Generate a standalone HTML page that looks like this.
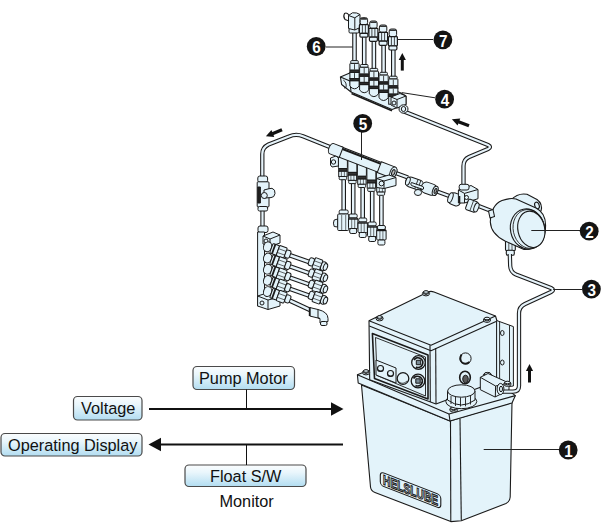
<!DOCTYPE html>
<html><head><meta charset="utf-8">
<style>
html,body{margin:0;padding:0;background:#fff;width:608px;height:528px;overflow:hidden}
svg{display:block}
.lb{font-family:"Liberation Sans",sans-serif;font-size:16.3px;fill:#111}
.num{font-family:"Liberation Sans",sans-serif;font-size:17px;font-weight:bold;fill:#fff}
</style></head><body>
<svg width="608" height="528" viewBox="0 0 608 528">
<defs>
<linearGradient id="bx" x1="0" y1="0" x2="0" y2="1">
<stop offset="0" stop-color="#fbfdfe"/><stop offset="0.35" stop-color="#e9f6fc"/><stop offset="1" stop-color="#b2ddf1"/>
</linearGradient>
</defs>
<g stroke="#4a4a4a" stroke-width="1.2" fill="url(#bx)">
<rect x="73.5" y="396.5" width="68.5" height="23.5" rx="4"/>
<rect x="1" y="433.5" width="141" height="22.5" rx="4"/>
<rect x="193" y="366.5" width="101.5" height="23" rx="4"/>
<rect x="185" y="465" width="121" height="21.5" rx="4"/>
</g>
<g class="lb">
<text x="81" y="414">Voltage</text>
<text x="8" y="451">Operating Display</text>
<text x="199" y="384">Pump Motor</text>
<text x="210" y="481.5">Float S/W</text>
<text x="219.5" y="506.5">Monitor</text>
</g>
<g stroke="#111" stroke-width="2" fill="none">
<line x1="149" y1="409" x2="332" y2="409"/>
<line x1="160" y1="444.5" x2="343" y2="444.5"/>
</g>
<g stroke="#111" stroke-width="1" fill="none">
<line x1="246.5" y1="389.5" x2="246.5" y2="408"/>
<line x1="246.5" y1="444" x2="246.5" y2="465"/>
</g>
<g fill="#111">
<polygon points="343.5,409 331,402.3 331,415.7"/>
<polygon points="148.5,444.5 161,437.8 161,451.2"/>
</g>
<g stroke="#1a1a1a" stroke-width="1.1" fill="#e3f3fa" stroke-linejoin="round">
<path d="M361.5,385 L370.5,487 Q371,491 375,492.5 L450.8,521.6 L461.3,520.8 L506,503.5 Q510,501.5 510.2,497 L512,402 L450,421 Z"/>
<line x1="450.5" y1="421" x2="450.8" y2="521.5"/>
<line x1="460" y1="419" x2="461.3" y2="520.5"/>
<path d="M357.4,374.7 L368,370.6 L505,388 L515.4,395.6 L512,403 L450,421 L358.2,383 Z"/>
<path d="M357.4,374.7 L449,414 L515.4,395.6" fill="none"/>
<line x1="449" y1="414" x2="450" y2="421"/>
<path d="M369,320.7 L428,292 Q431,290.8 434,292 L495.5,316 L497,321 L497,381 L436,404 L369.7,379.7 Z"/>
<path d="M369,320.7 L431,345.3 L495.5,316" fill="none"/>
<path d="M369.3,326 L431,350.8 L496,321.5" fill="none"/>
<line x1="435.7" y1="348" x2="436" y2="404"/>
<line x1="430" y1="345.3" x2="430.3" y2="402"/>
<path d="M372.4,333.5 L428,355 L428,399 L374.5,378.5 Z" stroke-width="1.6"/>
<path d="M375.5,337.5 L425.5,357 L425.5,396 L377,375.5 Z" fill="none" stroke-width="0.9"/>
</g>
<g transform="translate(379.8,471) skewY(21.2)"><rect x="0.5" y="0.5" width="60.5" height="13.5" rx="3.5" fill="none" stroke="#1a1a1a" stroke-width="1.1"/><text x="30.8" y="12" text-anchor="middle" textLength="55" lengthAdjust="spacingAndGlyphs" style="font-family:'Liberation Sans',sans-serif;font-weight:bold;font-size:13.8px" fill="#cfdde6" stroke="#1a1a1a" stroke-width="1.1">HELSLUBE</text></g>
<path d="M404,111.5 L488,145 Q492,147 488,149 L469,157 Q463.5,159.5 463.5,166 L463.5,186" fill="none" stroke="#1a1a1a" stroke-width="4.3" stroke-linejoin="round" stroke-linecap="butt"/>
<path d="M404,111.5 L488,145 Q492,147 488,149 L469,157 Q463.5,159.5 463.5,166 L463.5,186" fill="none" stroke="#e6f3fa" stroke-width="2.2" stroke-linejoin="round" stroke-linecap="butt"/>
<path d="M262.3,181 L262.3,154 Q262.3,147.5 268.5,144.5 L289,136.5 Q296,133.5 303,136.3 L331,147.5" fill="none" stroke="#1a1a1a" stroke-width="4.3" stroke-linejoin="round" stroke-linecap="butt"/>
<path d="M262.3,181 L262.3,154 Q262.3,147.5 268.5,144.5 L289,136.5 Q296,133.5 303,136.3 L331,147.5" fill="none" stroke="#e6f3fa" stroke-width="2.2" stroke-linejoin="round" stroke-linecap="butt"/>
<path d="M393,172 L408,177.5" fill="none" stroke="#1a1a1a" stroke-width="4.3" stroke-linejoin="round" stroke-linecap="butt"/>
<path d="M393,172 L408,177.5" fill="none" stroke="#e6f3fa" stroke-width="2.2" stroke-linejoin="round" stroke-linecap="butt"/>
<path d="M433,190 L452,197" fill="none" stroke="#1a1a1a" stroke-width="4.3" stroke-linejoin="round" stroke-linecap="butt"/>
<path d="M433,190 L452,197" fill="none" stroke="#e6f3fa" stroke-width="2.2" stroke-linejoin="round" stroke-linecap="butt"/>
<path d="M476,205 L494,212" fill="none" stroke="#1a1a1a" stroke-width="4.3" stroke-linejoin="round" stroke-linecap="butt"/>
<path d="M476,205 L494,212" fill="none" stroke="#e6f3fa" stroke-width="2.2" stroke-linejoin="round" stroke-linecap="butt"/>
<path d="M262.5,208 L262.5,228" fill="none" stroke="#1a1a1a" stroke-width="4.3" stroke-linejoin="round" stroke-linecap="butt"/>
<path d="M262.5,208 L262.5,228" fill="none" stroke="#e6f3fa" stroke-width="2.2" stroke-linejoin="round" stroke-linecap="butt"/>
<path d="M354.5,31 L354.5,61.6" fill="none" stroke="#1a1a1a" stroke-width="4.6" stroke-linejoin="round" stroke-linecap="butt"/>
<path d="M354.5,31 L354.5,61.6" fill="none" stroke="#e6f3fa" stroke-width="2.4" stroke-linejoin="round" stroke-linecap="butt"/>
<path d="M364.2,36 L364.2,65.5" fill="none" stroke="#1a1a1a" stroke-width="4.6" stroke-linejoin="round" stroke-linecap="butt"/>
<path d="M364.2,36 L364.2,65.5" fill="none" stroke="#e6f3fa" stroke-width="2.4" stroke-linejoin="round" stroke-linecap="butt"/>
<path d="M373.9,40 L373.9,69.4" fill="none" stroke="#1a1a1a" stroke-width="4.6" stroke-linejoin="round" stroke-linecap="butt"/>
<path d="M373.9,40 L373.9,69.4" fill="none" stroke="#e6f3fa" stroke-width="2.4" stroke-linejoin="round" stroke-linecap="butt"/>
<path d="M383.6,44 L383.6,73.3" fill="none" stroke="#1a1a1a" stroke-width="4.6" stroke-linejoin="round" stroke-linecap="butt"/>
<path d="M383.6,44 L383.6,73.3" fill="none" stroke="#e6f3fa" stroke-width="2.4" stroke-linejoin="round" stroke-linecap="butt"/>
<path d="M393.3,49 L393.3,77.2" fill="none" stroke="#1a1a1a" stroke-width="4.6" stroke-linejoin="round" stroke-linecap="butt"/>
<path d="M393.3,49 L393.3,77.2" fill="none" stroke="#e6f3fa" stroke-width="2.4" stroke-linejoin="round" stroke-linecap="butt"/>
<g stroke="#1a1a1a" stroke-width="1.1" fill="#e3f3fa" stroke-linejoin="round"><path d="M340.4,76.9 L349.75,73 L401,93 L406,96 L406,104.5 L392,109.5 L351,92 L341.6,84.5 Z"/><path d="M340.4,76.9 L350,81 L351,92" fill="none"/><path d="M350,81 L392,98" fill="none"/><path d="M351.5,93.5 L392,110.8" fill="none" stroke-width="1.7"/><path d="M343.3,80 Q347,82.5 346,87.5 L344,88" fill="none" stroke-width="0.9"/></g>
<g stroke="#1a1a1a" stroke-width="1" fill="#e3f3fa"><path d="M349.9,80.6 L349.9,86.1 Q354.5,91.6 359.09999999999997,86.1 L359.09999999999997,80.6 Z"/><rect x="350.7" y="60.6" width="7.6" height="2.8" rx="1"/><rect x="349.9" y="63.4" width="9.2" height="6.8" rx="0.5"/><line x1="354.5" y1="64.1" x2="354.5" y2="69.6" stroke-width="0.8"/><rect x="349.9" y="70.2" width="9.2" height="2.3" fill="#2a2a2a"/><rect x="349.9" y="72.5" width="9.2" height="6"/><line x1="354.5" y1="73.1" x2="354.5" y2="78.1" stroke-width="0.8"/><rect x="349.9" y="78.5" width="9.2" height="2.3" fill="#2a2a2a"/></g>
<g stroke="#1a1a1a" stroke-width="1" fill="#e3f3fa"><path d="M359.59999999999997,84.5 L359.59999999999997,90.0 Q364.2,95.5 368.79999999999995,90.0 L368.79999999999995,84.5 Z"/><rect x="360.4" y="64.5" width="7.6" height="2.8" rx="1"/><rect x="359.59999999999997" y="67.3" width="9.2" height="6.8" rx="0.5"/><line x1="364.2" y1="68.0" x2="364.2" y2="73.5" stroke-width="0.8"/><rect x="359.59999999999997" y="74.1" width="9.2" height="2.3" fill="#2a2a2a"/><rect x="359.59999999999997" y="76.4" width="9.2" height="6"/><line x1="364.2" y1="77.0" x2="364.2" y2="82.0" stroke-width="0.8"/><rect x="359.59999999999997" y="82.4" width="9.2" height="2.3" fill="#2a2a2a"/></g>
<g stroke="#1a1a1a" stroke-width="1" fill="#e3f3fa"><path d="M369.29999999999995,88.4 L369.29999999999995,93.9 Q373.9,99.4 378.49999999999994,93.9 L378.49999999999994,88.4 Z"/><rect x="370.09999999999997" y="68.4" width="7.6" height="2.8" rx="1"/><rect x="369.29999999999995" y="71.2" width="9.2" height="6.8" rx="0.5"/><line x1="373.9" y1="71.9" x2="373.9" y2="77.4" stroke-width="0.8"/><rect x="369.29999999999995" y="78.0" width="9.2" height="2.3" fill="#2a2a2a"/><rect x="369.29999999999995" y="80.30000000000001" width="9.2" height="6"/><line x1="373.9" y1="80.9" x2="373.9" y2="85.9" stroke-width="0.8"/><rect x="369.29999999999995" y="86.30000000000001" width="9.2" height="2.3" fill="#2a2a2a"/></g>
<g stroke="#1a1a1a" stroke-width="1" fill="#e3f3fa"><path d="M379.0,92.3 L379.0,97.8 Q383.6,103.3 388.2,97.8 L388.2,92.3 Z"/><rect x="379.8" y="72.3" width="7.6" height="2.8" rx="1"/><rect x="379.0" y="75.1" width="9.2" height="6.8" rx="0.5"/><line x1="383.6" y1="75.8" x2="383.6" y2="81.3" stroke-width="0.8"/><rect x="379.0" y="81.89999999999999" width="9.2" height="2.3" fill="#2a2a2a"/><rect x="379.0" y="84.2" width="9.2" height="6"/><line x1="383.6" y1="84.8" x2="383.6" y2="89.8" stroke-width="0.8"/><rect x="379.0" y="90.19999999999999" width="9.2" height="2.3" fill="#2a2a2a"/></g>
<g stroke="#1a1a1a" stroke-width="1" fill="#e3f3fa"><rect x="388.7" y="96.2" width="9.2" height="8"/><rect x="389.5" y="76.2" width="7.6" height="2.8" rx="1"/><rect x="388.7" y="79.0" width="9.2" height="6.8" rx="0.5"/><line x1="393.3" y1="79.7" x2="393.3" y2="85.2" stroke-width="0.8"/><rect x="388.7" y="85.8" width="9.2" height="2.3" fill="#2a2a2a"/><rect x="388.7" y="88.10000000000001" width="9.2" height="6"/><line x1="393.3" y1="88.7" x2="393.3" y2="93.7" stroke-width="0.8"/><rect x="388.7" y="94.1" width="9.2" height="2.3" fill="#2a2a2a"/></g>
<g stroke="#1a1a1a" stroke-width="1" fill="#e3f3fa" stroke-linejoin="round"><path d="M391,97 L400,93.5 L406,96 L406,104.5 L397,108 L391,105 Z"/><path d="M391,97 L397,99.5 L406,96 M397,99.5 L397,108" fill="none"/><circle cx="394" cy="103" r="2"/><ellipse cx="403.5" cy="109" rx="4.5" ry="4.2"/><ellipse cx="403.5" cy="109" rx="2.2" ry="2.5"/></g>
<g stroke="#1a1a1a" stroke-width="1" fill="#e3f3fa" stroke-linejoin="round"><rect x="349" y="28.5" width="10" height="4.5" rx="1.2"/><path d="M348.5,15.5 L352.5,12.8 Q357,12.3 360,14.5 L360,27.5 L354.8,30 L348.5,28.5 Z"/><path d="M348.5,15.5 L354.8,17.8 L360,14.5 M354.8,17.8 L354.8,30" fill="none"/><path d="M349,15 Q346.5,12 344.5,13.5 Q342.8,16.5 345,19.5 L349,21" fill="none" stroke-width="1.1"/></g>
<g stroke="#1a1a1a" stroke-width="1" fill="#e3f3fa"><rect x="360.2" y="17.7" width="7.4" height="7.0" rx="2"/><rect x="360.59999999999997" y="18.099999999999998" width="6.6" height="1.6" rx="0.8" fill="#333" stroke="none"/><rect x="359.4" y="24.7" width="9" height="8.6" rx="0.8" stroke-width="1.2"/><line x1="362.4" y1="25.1" x2="362.4" y2="32.9" stroke-width="0.8"/><line x1="365.4" y1="25.1" x2="365.4" y2="32.9" stroke-width="0.8"/><rect x="359.9" y="33.3" width="8" height="3.9" rx="1.2" stroke-width="1.2"/></g>
<g stroke="#1a1a1a" stroke-width="1" fill="#e3f3fa"><rect x="369.7" y="21" width="7.4" height="7.3" rx="2"/><rect x="370.09999999999997" y="21.4" width="6.6" height="1.6" rx="0.8" fill="#333" stroke="none"/><rect x="368.9" y="28.3" width="9" height="8.9" rx="0.8" stroke-width="1.2"/><line x1="371.9" y1="28.7" x2="371.9" y2="36.8" stroke-width="0.8"/><line x1="374.9" y1="28.7" x2="374.9" y2="36.8" stroke-width="0.8"/><rect x="369.4" y="37.2" width="8" height="4.1" rx="1.2" stroke-width="1.2"/></g>
<g stroke="#1a1a1a" stroke-width="1" fill="#e3f3fa"><rect x="379.40000000000003" y="25" width="7.4" height="7.3" rx="2"/><rect x="379.8" y="25.4" width="6.6" height="1.6" rx="0.8" fill="#333" stroke="none"/><rect x="378.6" y="32.3" width="9" height="8.9" rx="0.8" stroke-width="1.2"/><line x1="381.6" y1="32.7" x2="381.6" y2="40.8" stroke-width="0.8"/><line x1="384.6" y1="32.7" x2="384.6" y2="40.8" stroke-width="0.8"/><rect x="379.1" y="41.2" width="8" height="4.1" rx="1.2" stroke-width="1.2"/></g>
<g stroke="#1a1a1a" stroke-width="1" fill="#e3f3fa"><rect x="389.2" y="29" width="7.4" height="7.6" rx="2"/><rect x="389.59999999999997" y="29.4" width="6.6" height="1.6" rx="0.8" fill="#333" stroke="none"/><rect x="388.4" y="36.6" width="9" height="9.2" rx="0.8" stroke-width="1.2"/><line x1="391.4" y1="37.0" x2="391.4" y2="45.4" stroke-width="0.8"/><line x1="394.4" y1="37.0" x2="394.4" y2="45.4" stroke-width="0.8"/><rect x="388.9" y="45.8" width="8" height="4.2" rx="1.2" stroke-width="1.2"/></g>
<path d="M343.7,180 L343.7,212" fill="none" stroke="#1a1a1a" stroke-width="4.6" stroke-linejoin="round" stroke-linecap="butt"/>
<path d="M343.7,180 L343.7,212" fill="none" stroke="#e6f3fa" stroke-width="2.4" stroke-linejoin="round" stroke-linecap="butt"/>
<path d="M353.2,184 L353.2,216" fill="none" stroke="#1a1a1a" stroke-width="4.6" stroke-linejoin="round" stroke-linecap="butt"/>
<path d="M353.2,184 L353.2,216" fill="none" stroke="#e6f3fa" stroke-width="2.4" stroke-linejoin="round" stroke-linecap="butt"/>
<path d="M362.7,188 L362.7,220" fill="none" stroke="#1a1a1a" stroke-width="4.6" stroke-linejoin="round" stroke-linecap="butt"/>
<path d="M362.7,188 L362.7,220" fill="none" stroke="#e6f3fa" stroke-width="2.4" stroke-linejoin="round" stroke-linecap="butt"/>
<path d="M372.2,192 L372.2,224" fill="none" stroke="#1a1a1a" stroke-width="4.6" stroke-linejoin="round" stroke-linecap="butt"/>
<path d="M372.2,192 L372.2,224" fill="none" stroke="#e6f3fa" stroke-width="2.4" stroke-linejoin="round" stroke-linecap="butt"/>
<path d="M381.4,196 L381.4,227.5" fill="none" stroke="#1a1a1a" stroke-width="4.6" stroke-linejoin="round" stroke-linecap="butt"/>
<path d="M381.4,196 L381.4,227.5" fill="none" stroke="#e6f3fa" stroke-width="2.4" stroke-linejoin="round" stroke-linecap="butt"/>
<g stroke="#1a1a1a" stroke-width="1" fill="#e3f3fa"><rect x="338.4" y="155.0" width="9" height="13.5" rx="1"/><rect x="338.7" y="168.5" width="8.4" height="2.8" fill="#333"/><rect x="338.7" y="171.3" width="8.4" height="5.2"/><line x1="341.4" y1="171.3" x2="341.4" y2="176.5" stroke-width="0.6"/><line x1="344.4" y1="171.3" x2="344.4" y2="176.5" stroke-width="0.6"/><rect x="339.2" y="176.5" width="7.4" height="3.2" rx="1"/></g>
<g stroke="#1a1a1a" stroke-width="1" fill="#e3f3fa"><rect x="347.9" y="158.9" width="9" height="13.5" rx="1"/><rect x="348.2" y="172.4" width="8.4" height="2.8" fill="#333"/><rect x="348.2" y="175.20000000000002" width="8.4" height="5.2"/><line x1="350.9" y1="175.20000000000002" x2="350.9" y2="180.4" stroke-width="0.6"/><line x1="353.9" y1="175.20000000000002" x2="353.9" y2="180.4" stroke-width="0.6"/><rect x="348.7" y="180.4" width="7.4" height="3.2" rx="1"/></g>
<g stroke="#1a1a1a" stroke-width="1" fill="#e3f3fa"><rect x="357.4" y="162.8" width="9" height="13.5" rx="1"/><rect x="357.7" y="176.3" width="8.4" height="2.8" fill="#333"/><rect x="357.7" y="179.10000000000002" width="8.4" height="5.2"/><line x1="360.4" y1="179.10000000000002" x2="360.4" y2="184.3" stroke-width="0.6"/><line x1="363.4" y1="179.10000000000002" x2="363.4" y2="184.3" stroke-width="0.6"/><rect x="358.2" y="184.3" width="7.4" height="3.2" rx="1"/></g>
<g stroke="#1a1a1a" stroke-width="1" fill="#e3f3fa"><rect x="366.9" y="166.7" width="9" height="13.5" rx="1"/><rect x="367.2" y="180.2" width="8.4" height="2.8" fill="#333"/><rect x="367.2" y="183.0" width="8.4" height="5.2"/><line x1="369.9" y1="183.0" x2="369.9" y2="188.2" stroke-width="0.6"/><line x1="372.9" y1="183.0" x2="372.9" y2="188.2" stroke-width="0.6"/><rect x="367.7" y="188.2" width="7.4" height="3.2" rx="1"/></g>
<g stroke="#1a1a1a" stroke-width="1" fill="#e3f3fa"><rect x="376.4" y="170.6" width="9" height="13.5" rx="1"/><rect x="376.7" y="184.1" width="8.4" height="2.8" fill="#333"/><rect x="376.7" y="186.9" width="8.4" height="5.2"/><line x1="379.4" y1="186.9" x2="379.4" y2="192.1" stroke-width="0.6"/><line x1="382.4" y1="186.9" x2="382.4" y2="192.1" stroke-width="0.6"/><rect x="377.2" y="192.1" width="7.4" height="3.2" rx="1"/></g>
<g stroke="#1a1a1a" stroke-width="1" fill="#e3f3fa" stroke-linejoin="round"><path d="M337.7,219 L334.2,220 Q332.7,223 334.2,226.5 L337.7,227 Z"/><rect x="339.2" y="210" width="9" height="4" rx="1.5"/><rect x="337.7" y="214" width="11" height="16.5" rx="1"/><line x1="341.7" y1="215" x2="341.7" y2="230" stroke-width="0.6"/><line x1="345.7" y1="215" x2="345.7" y2="230" stroke-width="0.6"/></g>
<g stroke="#1a1a1a" stroke-width="1" fill="#e3f3fa" stroke-linejoin="round"><rect x="349.2" y="214" width="8" height="4" rx="1.5"/><rect x="348.5" y="218" width="9.4" height="10.5" rx="1"/><line x1="348.5" y1="219" x2="357.9" y2="219" stroke-width="1.4"/><line x1="351.7" y1="219" x2="351.7" y2="228.5" stroke-width="0.6"/><line x1="354.7" y1="219" x2="354.7" y2="228.5" stroke-width="0.6"/><rect x="349.7" y="228.5" width="7" height="5" rx="1.5"/></g>
<g stroke="#1a1a1a" stroke-width="1" fill="#e3f3fa" stroke-linejoin="round"><rect x="358.7" y="218" width="8" height="4" rx="1.5"/><rect x="358.0" y="222" width="9.4" height="10.5" rx="1"/><line x1="358.0" y1="223" x2="367.4" y2="223" stroke-width="1.4"/><line x1="361.2" y1="223" x2="361.2" y2="232.5" stroke-width="0.6"/><line x1="364.2" y1="223" x2="364.2" y2="232.5" stroke-width="0.6"/><rect x="359.2" y="232.5" width="7" height="5" rx="1.5"/></g>
<g stroke="#1a1a1a" stroke-width="1" fill="#e3f3fa" stroke-linejoin="round"><rect x="368.2" y="222" width="8" height="4" rx="1.5"/><rect x="367.5" y="226" width="9.4" height="10.5" rx="1"/><line x1="367.5" y1="227" x2="376.9" y2="227" stroke-width="1.4"/><line x1="370.7" y1="227" x2="370.7" y2="236.5" stroke-width="0.6"/><line x1="373.7" y1="227" x2="373.7" y2="236.5" stroke-width="0.6"/><rect x="368.7" y="236.5" width="7" height="5" rx="1.5"/></g>
<g stroke="#1a1a1a" stroke-width="1" fill="#e3f3fa" stroke-linejoin="round"><rect x="377.4" y="225.5" width="8" height="4" rx="1.5"/><rect x="376.7" y="229.5" width="9.4" height="10.5" rx="1"/><line x1="376.7" y1="230.5" x2="386.09999999999997" y2="230.5" stroke-width="1.4"/><line x1="379.9" y1="230.5" x2="379.9" y2="240.0" stroke-width="0.6"/><line x1="382.9" y1="230.5" x2="382.9" y2="240.0" stroke-width="0.6"/><rect x="377.9" y="240.0" width="7" height="5" rx="1.5"/></g>
<g transform="translate(330,148) rotate(21.158720447973263)" stroke="#1a1a1a" stroke-width="1" fill="#e3f3fa" stroke-linejoin="round"><rect x="10" y="-5.2" width="43.9" height="10.4"/><line x1="12" y1="-3.6" x2="53.9" y2="-3.6" stroke-width="2"/><path d="M2,-5.5 L12,-5.5 L12,5.5 L2,5.5 A3,5.5 0 0 1 2,-5.5 Z"/><path d="M52.9,-5.8 L67.9,-5.8 A3.2,5.8 0 0 1 67.9,5.8 L52.9,5.8 Z"/><ellipse cx="67.9" cy="0" rx="3.2" ry="5.8"/><ellipse cx="67.9" cy="0" rx="1.5" ry="3" fill="#bbb"/></g>
<g stroke="#1a1a1a" stroke-width="1" fill="#e3f3fa" stroke-linejoin="round"><path d="M330.5,158 L336,156 L338.4,158 L338.4,166 L332,167 L330.5,165 Z"/><circle cx="333.5" cy="162" r="2.2"/><path d="M376.6,178.5 L389,175 L396,177.5 L396,185.5 L384,188.5 L376.6,187.5 Z"/><path d="M376.6,178.5 L384,181 L396,177.5 M384,181 L384,188.5" fill="none"/><circle cx="381.5" cy="183.5" r="2.4"/></g>
<g transform="translate(406,180.5) rotate(19.5)" stroke="#1a1a1a" stroke-width="1" fill="#e3f3fa" stroke-linejoin="round"><rect x="0" y="-5" width="18" height="10" rx="4.5"/><line x1="11" y1="-4.8" x2="11" y2="4.8" stroke-width="0.8"/><line x1="14" y1="-4.8" x2="14" y2="4.8" stroke-width="0.8"/><rect x="16.5" y="-5.6" width="16" height="11.2" rx="5"/><ellipse cx="31" cy="0" rx="2.6" ry="4.8"/><ellipse cx="31.3" cy="0" rx="1.2" ry="2.6" fill="#999"/><ellipse cx="2" cy="0" rx="2" ry="4.2"/></g>
<g stroke="#1a1a1a" stroke-width="1" fill="#e3f3fa" stroke-linejoin="round"><ellipse cx="418" cy="192.5" rx="3.6" ry="3"/><path d="M411.5,182.5 L423,186.5 Q424.5,188 423,189.5 L411.5,185.5 Q410,184 411.5,182.5 Z"/></g>
<g transform="translate(449.5,197.3) rotate(20)" stroke="#1a1a1a" stroke-width="1" fill="#e3f3fa" stroke-linejoin="round"><rect x="0" y="-6" width="12" height="12" rx="4"/><ellipse cx="1" cy="0" rx="2.2" ry="5.2"/></g>
<g stroke="#1a1a1a" stroke-width="1" fill="#e3f3fa" stroke-linejoin="round"><path d="M458.4,190 L471,185.5 L478,189.5 L478,198.7 L464.5,203 L458.4,203 Z"/><path d="M458.4,190 L464.5,193.4 L478,189.5 M464.5,193.4 L464.5,203" fill="none"/><rect x="459.2" y="184.3" width="9.8" height="5.7" rx="2"/><circle cx="466.5" cy="197.5" r="2"/><line x1="459.5" y1="196" x2="459.5" y2="203" stroke-width="1.6"/></g>
<g transform="translate(467,204) rotate(20)" stroke="#1a1a1a" stroke-width="1" fill="#e3f3fa" stroke-linejoin="round"><rect x="0" y="-5.5" width="10" height="11" rx="1.5"/><line x1="5" y1="-5.5" x2="5" y2="5.5" stroke-width="0.7"/><ellipse cx="10" cy="0" rx="2.2" ry="4.8"/></g>
<g stroke="#1a1a1a" stroke-width="1" fill="#e3f3fa" stroke-linejoin="round"><rect x="257.8" y="176" width="9.8" height="6.3" rx="2"/><rect x="257.2" y="181.8" width="11.8" height="25.2" rx="1"/><path d="M269,188.7 L272,188.3 Q275.5,189.5 275,193.5 Q274.5,197.5 271,197.6 L264,198 L264,190 Z"/><circle cx="264.3" cy="195.5" r="3"/><rect x="257.8" y="187" width="2.6" height="16" fill="#222"/><rect x="258" y="206.5" width="9.6" height="4.5" rx="1.5"/></g>
<path d="M285,253.5 L312,263.0" fill="none" stroke="#1a1a1a" stroke-width="4.6" stroke-linejoin="round" stroke-linecap="butt"/>
<path d="M285,253.5 L312,263.0" fill="none" stroke="#e6f3fa" stroke-width="2.4" stroke-linejoin="round" stroke-linecap="butt"/>
<path d="M285,264.7 L312,274.2" fill="none" stroke="#1a1a1a" stroke-width="4.6" stroke-linejoin="round" stroke-linecap="butt"/>
<path d="M285,264.7 L312,274.2" fill="none" stroke="#e6f3fa" stroke-width="2.4" stroke-linejoin="round" stroke-linecap="butt"/>
<path d="M285,275.9 L312,285.4" fill="none" stroke="#1a1a1a" stroke-width="4.6" stroke-linejoin="round" stroke-linecap="butt"/>
<path d="M285,275.9 L312,285.4" fill="none" stroke="#e6f3fa" stroke-width="2.4" stroke-linejoin="round" stroke-linecap="butt"/>
<path d="M285,287.1 L312,296.6" fill="none" stroke="#1a1a1a" stroke-width="4.6" stroke-linejoin="round" stroke-linecap="butt"/>
<path d="M285,287.1 L312,296.6" fill="none" stroke="#e6f3fa" stroke-width="2.4" stroke-linejoin="round" stroke-linecap="butt"/>
<path d="M285,298.3 L312,310.8" fill="none" stroke="#1a1a1a" stroke-width="4.6" stroke-linejoin="round" stroke-linecap="butt"/>
<path d="M285,298.3 L312,310.8" fill="none" stroke="#e6f3fa" stroke-width="2.4" stroke-linejoin="round" stroke-linecap="butt"/>
<g stroke="#1a1a1a" stroke-width="1" fill="#e3f3fa" stroke-linejoin="round"><rect x="258" y="226" width="10" height="6.5" rx="2"/><path d="M257.6,232 L264.5,232 L264.5,306 L257.6,306 Z"/><path d="M263,236 L273,232 L280,235 L280,243 L270,246.5 L263,244 Z"/><path d="M263,236 L270,239 L280,235 M270,239 L270,246.5" fill="none"/><circle cx="266" cy="241" r="2"/><path d="M257.6,296 L267,293 L280,297 L280,306 L268,309.5 L257.6,306 Z"/><path d="M257.6,296 L268,300 L280,297 M268,300 L268,309.5" fill="none"/><circle cx="262" cy="303" r="2"/></g>
<g transform="translate(272.3,248.5) rotate(20)" stroke="#1a1a1a" stroke-width="1" fill="#e3f3fa" stroke-linejoin="round"><ellipse cx="-5" cy="0" rx="4" ry="5" /><rect x="-1" y="-5" width="7" height="10" rx="1"/><line x1="1.5" y1="-5" x2="1.5" y2="5" stroke-width="1.8"/><rect x="6" y="-5.5" width="8" height="11" rx="1"/><line x1="6" y1="-2" x2="14" y2="-2" stroke-width="0.6"/><line x1="6" y1="2" x2="14" y2="2" stroke-width="0.6"/><rect x="14" y="-4" width="5" height="8" rx="2"/></g>
<g transform="translate(309,261.0) rotate(20)" stroke="#1a1a1a" stroke-width="1" fill="#e3f3fa" stroke-linejoin="round"><rect x="0" y="-4" width="5" height="8" rx="2"/><rect x="5" y="-5.5" width="8" height="11" rx="1"/><line x1="5" y1="-2" x2="13" y2="-2" stroke-width="0.6"/><line x1="5" y1="2" x2="13" y2="2" stroke-width="0.6"/><rect x="13" y="-4.5" width="5" height="9" rx="2.5"/><ellipse cx="17.5" cy="0" rx="2" ry="3.5"/></g>
<g transform="translate(272.3,259.7) rotate(20)" stroke="#1a1a1a" stroke-width="1" fill="#e3f3fa" stroke-linejoin="round"><ellipse cx="-5" cy="0" rx="4" ry="5" /><rect x="-1" y="-5" width="7" height="10" rx="1"/><line x1="1.5" y1="-5" x2="1.5" y2="5" stroke-width="1.8"/><rect x="6" y="-5.5" width="8" height="11" rx="1"/><line x1="6" y1="-2" x2="14" y2="-2" stroke-width="0.6"/><line x1="6" y1="2" x2="14" y2="2" stroke-width="0.6"/><rect x="14" y="-4" width="5" height="8" rx="2"/></g>
<g transform="translate(309,272.2) rotate(20)" stroke="#1a1a1a" stroke-width="1" fill="#e3f3fa" stroke-linejoin="round"><rect x="0" y="-4" width="5" height="8" rx="2"/><rect x="5" y="-5.5" width="8" height="11" rx="1"/><line x1="5" y1="-2" x2="13" y2="-2" stroke-width="0.6"/><line x1="5" y1="2" x2="13" y2="2" stroke-width="0.6"/><rect x="13" y="-4.5" width="5" height="9" rx="2.5"/><ellipse cx="17.5" cy="0" rx="2" ry="3.5"/></g>
<g transform="translate(272.3,270.9) rotate(20)" stroke="#1a1a1a" stroke-width="1" fill="#e3f3fa" stroke-linejoin="round"><ellipse cx="-5" cy="0" rx="4" ry="5" /><rect x="-1" y="-5" width="7" height="10" rx="1"/><line x1="1.5" y1="-5" x2="1.5" y2="5" stroke-width="1.8"/><rect x="6" y="-5.5" width="8" height="11" rx="1"/><line x1="6" y1="-2" x2="14" y2="-2" stroke-width="0.6"/><line x1="6" y1="2" x2="14" y2="2" stroke-width="0.6"/><rect x="14" y="-4" width="5" height="8" rx="2"/></g>
<g transform="translate(309,283.4) rotate(20)" stroke="#1a1a1a" stroke-width="1" fill="#e3f3fa" stroke-linejoin="round"><rect x="0" y="-4" width="5" height="8" rx="2"/><rect x="5" y="-5.5" width="8" height="11" rx="1"/><line x1="5" y1="-2" x2="13" y2="-2" stroke-width="0.6"/><line x1="5" y1="2" x2="13" y2="2" stroke-width="0.6"/><rect x="13" y="-4.5" width="5" height="9" rx="2.5"/><ellipse cx="17.5" cy="0" rx="2" ry="3.5"/></g>
<g transform="translate(272.3,282.1) rotate(20)" stroke="#1a1a1a" stroke-width="1" fill="#e3f3fa" stroke-linejoin="round"><ellipse cx="-5" cy="0" rx="4" ry="5" /><rect x="-1" y="-5" width="7" height="10" rx="1"/><line x1="1.5" y1="-5" x2="1.5" y2="5" stroke-width="1.8"/><rect x="6" y="-5.5" width="8" height="11" rx="1"/><line x1="6" y1="-2" x2="14" y2="-2" stroke-width="0.6"/><line x1="6" y1="2" x2="14" y2="2" stroke-width="0.6"/><rect x="14" y="-4" width="5" height="8" rx="2"/></g>
<g transform="translate(309,294.6) rotate(20)" stroke="#1a1a1a" stroke-width="1" fill="#e3f3fa" stroke-linejoin="round"><rect x="0" y="-4" width="5" height="8" rx="2"/><rect x="5" y="-5.5" width="8" height="11" rx="1"/><line x1="5" y1="-2" x2="13" y2="-2" stroke-width="0.6"/><line x1="5" y1="2" x2="13" y2="2" stroke-width="0.6"/><rect x="13" y="-4.5" width="5" height="9" rx="2.5"/><ellipse cx="17.5" cy="0" rx="2" ry="3.5"/></g>
<g transform="translate(272.3,293.3) rotate(20)" stroke="#1a1a1a" stroke-width="1" fill="#e3f3fa" stroke-linejoin="round"><ellipse cx="-5" cy="0" rx="4" ry="5" /><rect x="-1" y="-5" width="7" height="10" rx="1"/><line x1="1.5" y1="-5" x2="1.5" y2="5" stroke-width="1.8"/><rect x="6" y="-5.5" width="8" height="11" rx="1"/><line x1="6" y1="-2" x2="14" y2="-2" stroke-width="0.6"/><line x1="6" y1="2" x2="14" y2="2" stroke-width="0.6"/><rect x="14" y="-4" width="5" height="8" rx="2"/></g>
<g stroke="#1a1a1a" stroke-width="1" fill="#e3f3fa" stroke-linejoin="round"><path d="M309.7,307.5 L318,309.5 Q328,312 328,318.5 L328,321.5 L320,323 L320,318.5 L309.7,316 Z"/><path d="M318,309.5 L318,318 L320,318.5" fill="none"/><path d="M309.7,307.5 L309.7,316" fill="none" stroke-width="1.8"/><rect x="320.5" y="321.5" width="6.5" height="4" rx="1.5"/></g>
<g stroke="#1a1a1a" stroke-width="1.1" fill="#e3f3fa" stroke-linejoin="round"><rect x="505.5" y="239" width="9.8" height="11.5" rx="1"/><line x1="508.8" y1="240" x2="508.8" y2="250.5" stroke-width="0.7"/><line x1="512" y1="240" x2="512" y2="250.5" stroke-width="0.7"/><rect x="506.3" y="250.3" width="8" height="5" rx="1.5"/><path d="M511,200 Q518,192.5 527,194.3 L537,199.5 Q543,204 541,211 L520,212 Z"/><path d="M512,199.5 L533,211" fill="none"/><ellipse cx="537" cy="205.5" rx="2.2" ry="3.5" transform="rotate(-20 537 205.5)"/><path d="M502,200.5 Q510,197.5 516,199 L536,208 Q548,214 545,232 Q541,250 524,249.5 L505,241 Q491,234 490.3,222 Q491,205 502,200.5 Z"/><ellipse cx="527.5" cy="229" rx="17" ry="20.2" transform="rotate(-12 527.5 229)"/><ellipse cx="529" cy="229" rx="15.8" ry="19.6" transform="rotate(-12 529 229)" fill="none" stroke-width="0.8"/><ellipse cx="531.3" cy="229.3" rx="13.4" ry="18.3" transform="rotate(-12 531.3 229.3)"/><path d="M488.5,211 L493,209.5 L494.5,216.5 L490,218 Z"/></g>
<g stroke="#1a1a1a" stroke-width="1" fill="#e3f3fa" stroke-linejoin="round"><ellipse cx="379.6" cy="318.5" rx="3.6" ry="2.4"/><path d="M377.0,317.0 L377.0,318.5 Q379.6,320.5 382.20000000000005,318.5 L382.20000000000005,317.0" fill="none"/><ellipse cx="379.6" cy="317.0" rx="2.6" ry="1.3"/><ellipse cx="426" cy="293.5" rx="3.6" ry="2.4"/><path d="M423.4,292.0 L423.4,293.5 Q426,295.5 428.6,293.5 L428.6,292.0" fill="none"/><ellipse cx="426" cy="292.0" rx="2.6" ry="1.3"/><ellipse cx="487" cy="320" rx="3.6" ry="2.4"/><path d="M484.4,318.5 L484.4,320 Q487,322 489.6,320 L489.6,318.5" fill="none"/><ellipse cx="487" cy="318.5" rx="2.6" ry="1.3"/><ellipse cx="366" cy="372.5" rx="3.6" ry="2.4"/><path d="M363.4,371.0 L363.4,372.5 Q366,374.5 368.6,372.5 L368.6,371.0" fill="none"/><ellipse cx="366" cy="371.0" rx="2.6" ry="1.3"/><ellipse cx="453.7" cy="409.6" rx="4" ry="2.6"/><path d="M450.7,408.1 L450.7,409.6 Q453.7,411.6 456.7,409.6 L456.7,408.1" fill="none"/><ellipse cx="453.7" cy="408.1" rx="3" ry="1.5"/><path d="M376,360 L396,368 L396,383 L376,375 Z"/><circle cx="380.5" cy="368.5" r="3" stroke-width="1.2"/><circle cx="390.5" cy="373.5" r="3" stroke-width="1.2"/><path d="M378,370 Q380,372 383,370.5 M388,375 Q390,377 393,375.5" fill="none" stroke-width="1.2"/><circle cx="403" cy="378.5" r="5.8" stroke-width="1.3"/><path d="M399,382 Q403,385 407,381" fill="none" stroke-width="0.7"/><circle cx="418.5" cy="362.5" r="6.8" stroke-width="1.3"/><path d="M414,360 A4.8,4.8 0 1 1 416,367" fill="none" stroke-width="1.8"/><rect x="416.3" y="360.3" width="4.4" height="4.4" fill="#7a8a94" stroke-width="1"/><circle cx="418" cy="381" r="6.8" stroke-width="1.3"/><path d="M413.5,378.5 A4.8,4.8 0 1 1 415.5,385.5" fill="none" stroke-width="1.8"/><rect x="415.8" y="378.8" width="4.4" height="4.4" fill="#7a8a94" stroke-width="1"/><circle cx="465.5" cy="358.5" r="5.6"/><path d="M461.5,354.5 Q459,359 462,362.5 Q466,365 469.5,362" fill="none" stroke-width="1.8"/><ellipse cx="465" cy="377.5" rx="5.3" ry="6.3" stroke-width="1.6"/><ellipse cx="465.5" cy="379" rx="2.8" ry="3.8" fill="#5a5a5a"/><ellipse cx="461.3" cy="401.5" rx="15.5" ry="7.2"/><path d="M447.5,391 L447.5,400 Q461.3,410 475,400 L475,391" /><ellipse cx="461.3" cy="391" rx="13.7" ry="6.2"/><path d="M451,396 L451,404 M455.5,397 L455.5,406 M460.5,397.5 L460.5,406.5 M465.5,397.3 L465.5,406.3 M470.5,396 L470.5,404.5" fill="none" stroke-width="0.9"/><path d="M496.6,320.5 L513.4,326.6 L513.4,386 L496.6,388 Z"/><path d="M499.6,321.6 L499.6,387.5 M509.5,325.2 L509.5,386.5" fill="none" stroke-width="0.9"/><ellipse cx="502.3" cy="333" rx="1.8" ry="2.5"/><ellipse cx="502.3" cy="362.5" rx="1.8" ry="2.5"/><ellipse cx="487.5" cy="375.5" rx="4.2" ry="2.7"/><path d="M484.3,374.0 L484.3,375.5 Q487.5,377.5 490.7,375.5 L490.7,374.0" fill="none"/><ellipse cx="487.5" cy="374.0" rx="3.2" ry="1.6"/><path d="M480.3,377.3 L488,373.5 L509,383 L509,390 L495,397 L480.3,389.7 Z"/><path d="M480.3,377.3 L495.6,386 L509,383 M495.6,386 L495.3,397" fill="none"/></g>
<path d="M509.8,254 L510.2,266 Q510.5,272 516,274.5 L551,288 Q555,290 551,292 L525,304 Q519,307 519,313 L519,386 Q519,391.7 513,391.7 L501,391.7" fill="none" stroke="#1a1a1a" stroke-width="4.3" stroke-linejoin="round" stroke-linecap="butt"/>
<path d="M509.8,254 L510.2,266 Q510.5,272 516,274.5 L551,288 Q555,290 551,292 L525,304 Q519,307 519,313 L519,386 Q519,391.7 513,391.7 L501,391.7" fill="none" stroke="#e6f3fa" stroke-width="2.2" stroke-linejoin="round" stroke-linecap="butt"/>
<g stroke="#1a1a1a" stroke-width="1" fill="#e3f3fa"><ellipse cx="500.5" cy="389" rx="3.4" ry="5.6"/><ellipse cx="501" cy="389" rx="1.5" ry="2.8"/><ellipse cx="507.5" cy="384" rx="3.6" ry="2.4"/><path d="M504.9,382.5 L504.9,384 Q507.5,386 510.1,384 L510.1,382.5" fill="none"/><ellipse cx="507.5" cy="382.5" rx="2.6" ry="1.3"/></g>
<g stroke="#222" stroke-width="1" fill="none"><line x1="483.7" y1="449.5" x2="559" y2="449.5"/><line x1="531.3" y1="230.5" x2="580" y2="230.5"/><line x1="553.2" y1="289.5" x2="582" y2="289.5"/><line x1="401.8" y1="92.6" x2="435" y2="97.8"/><line x1="361.5" y1="132" x2="361.5" y2="160"/><line x1="326" y1="47" x2="352.6" y2="47"/><line x1="397" y1="39.5" x2="433" y2="39.5"/></g>
<circle cx="568.2" cy="450" r="9.4" fill="#141414"/>
<text transform="translate(568.5,456.9) scale(0.9,1)" text-anchor="middle" class="num">1</text>
<circle cx="589.2" cy="231.2" r="9.4" fill="#141414"/>
<text transform="translate(589.5,238.1) scale(0.9,1)" text-anchor="middle" class="num">2</text>
<circle cx="591.4" cy="289.1" r="9.4" fill="#141414"/>
<text transform="translate(591.6999999999999,296.0) scale(0.9,1)" text-anchor="middle" class="num">3</text>
<circle cx="444.6" cy="99.2" r="9.4" fill="#141414"/>
<text transform="translate(444.90000000000003,106.10000000000001) scale(0.9,1)" text-anchor="middle" class="num">4</text>
<circle cx="362.7" cy="123.4" r="9.4" fill="#141414"/>
<text transform="translate(363.0,130.3) scale(0.9,1)" text-anchor="middle" class="num">5</text>
<circle cx="316.2" cy="46.5" r="9.4" fill="#141414"/>
<text transform="translate(316.5,53.4) scale(0.9,1)" text-anchor="middle" class="num">6</text>
<circle cx="442.9" cy="39.8" r="9.4" fill="#141414"/>
<text transform="translate(443.2,46.699999999999996) scale(0.9,1)" text-anchor="middle" class="num">7</text>
<line x1="402.3" y1="70.6" x2="402.30" y2="59.60" stroke="#111" stroke-width="3"/>
<polygon points="402.3,53.1 405.90,60.10 398.70,60.10" fill="#111"/>
<line x1="469" y1="125.8" x2="458.44" y2="121.79" stroke="#111" stroke-width="3.3"/>
<polygon points="451.9,119.3 460.26,118.41 457.56,125.52" fill="#111"/>
<line x1="282" y1="129.8" x2="272.39" y2="133.68" stroke="#111" stroke-width="3.3"/>
<polygon points="265.9,136.3 271.43,129.97 274.28,137.02" fill="#111"/>
<line x1="529.5" y1="382.5" x2="529.50" y2="370.50" stroke="#111" stroke-width="3"/>
<polygon points="529.5,364 533.10,371.00 525.90,371.00" fill="#111"/>
</svg>
</body></html>
